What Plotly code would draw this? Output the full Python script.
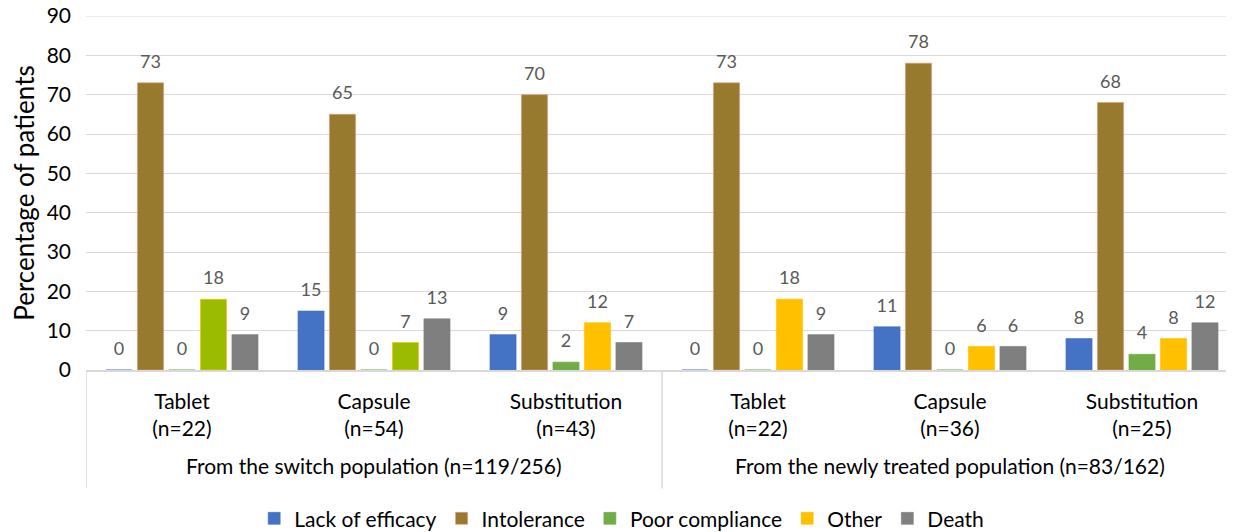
import plotly.graph_objects as go

categories = ["Tablet<br>(n=22)", "Capsule<br>(n=54)", "Substitution<br>(n=43)",
              "Tablet<br>(n=22)", "Capsule<br>(n=36)", "Substitution<br>(n=25)"]
groups = ["From the switch population (n=119/256)",
          "From the newly treated population (n=83/162)"]

series_names = ["Lack of efficacy", "Intolerance", "Poor compliance", "Other", "Death"]
lack_of_efficacy = [0, 15, 9, 0, 11, 8]
intolerance = [73, 65, 70, 73, 78, 68]
poor_compliance = [0, 0, 2, 0, 0, 4]
other = [18, 7, 12, 18, 6, 8]
death = [9, 13, 7, 9, 6, 12]

values = [lack_of_efficacy, intolerance, poor_compliance, other, death]
colors = ["#4472C4", "#977A2E", "#70AD47", "#FFC000", "#7F7F7F"]
# the first two "Other" bars of the switch population are drawn yellow-green in the original
other_colors = ["#9BBB00", "#9BBB00", "#FFC000", "#FFC000", "#FFC000", "#FFC000"]

FONT = "Lato"
x = list(range(len(categories)))

fig = go.Figure()
for i, (name, vals, col) in enumerate(zip(series_names, values, colors)):
    is_other = name == "Other"
    mcol = other_colors if is_other else col
    line_col = "#FFC000" if is_other else ("#E9967A" if name == "Intolerance" else col)
    fig.add_trace(go.Bar(
        x=x, y=vals, name=name, offsetgroup=str(i), legendrank=i + 1,
        showlegend=not is_other,
        marker=dict(color=mcol, line=dict(color=line_col, width=0.6)),
        hoverinfo="x+y+name",
    ))
    if is_other:
        # legend entry in the series' main colour
        fig.add_trace(go.Bar(
            x=[None], y=[None], name=name, offsetgroup=str(i), legendrank=i + 1,
            marker=dict(color=col, line=dict(color=col, width=0.6)),
        ))

# data labels, grouped like the bars
for i, vals in enumerate(values):
    fig.add_trace(go.Scatter(
        x=x, y=vals, mode="markers+text", text=[str(v) for v in vals],
        textposition="top center", offsetgroup=str(i), showlegend=False,
        marker=dict(size=15, opacity=0), hoverinfo="skip",
        textfont=dict(family=FONT, size=18, color="#595959"), cliponaxis=False,
    ))

fig.update_layout(
    width=1234, height=532,
    margin=dict(l=78, r=4, t=8, b=170, autoexpand=False),
    paper_bgcolor="white", plot_bgcolor="white",
    barmode="group", bargap=0.18, bargroupgap=0.17,
    scattermode="group", scattergap=0.18,
    font=dict(family=FONT, size=21, color="#000000"),
    legend=dict(orientation="h", x=0.465, xanchor="center",
                y=-0.42, yanchor="middle",
                font=dict(family=FONT, size=21, color="#000000"),
                itemwidth=30, tracegroupgap=0),
)

fig.update_yaxes(
    range=[0, 90], dtick=10, showgrid=True, gridcolor="#D9D9D9", gridwidth=1,
    zeroline=False, showline=False, ticks="", automargin=False,
    ticklabeloverflow="allow",
    tickfont=dict(family=FONT, size=21, color="#000000"),
    ticklabelstandoff=14,
    title=dict(text="Percentage of patients", font=dict(family=FONT, size=26, color="#000000"),
               standoff=4),
)
fig.update_xaxes(
    range=[-0.5, len(categories) - 0.5], automargin=False,
    tickmode="array", tickvals=x, ticktext=categories, tickangle=0,
    ticklabeloverflow="allow",
    tickfont=dict(family=FONT, size=21, color="#000000"),
    showline=True, linecolor="#D9D9D9", linewidth=1.5, ticks="", showgrid=False,
    ticklabelstandoff=12,
)

# top gridline of the value axis (at the upper edge of the range)
fig.add_shape(type="line", xref="paper", yref="y", x0=0, x1=1, y0=90, y1=90,
              line=dict(color="#D9D9D9", width=1), layer="below")

# category box dividers
for xv in [-0.5, 2.5, 5.5]:
    fig.add_shape(type="line", xref="x", yref="paper", x0=xv, x1=xv, y0=0, y1=-0.335,
                  line=dict(color="#D9D9D9", width=1.5))

# group labels
for gi, g in enumerate(groups):
    fig.add_annotation(text=g, xref="x", yref="paper", x=gi * 3 + 1, y=-0.27,
                       showarrow=False, yanchor="middle",
                       font=dict(family=FONT, size=21, color="#000000"))

fig.write_html("out.html")
